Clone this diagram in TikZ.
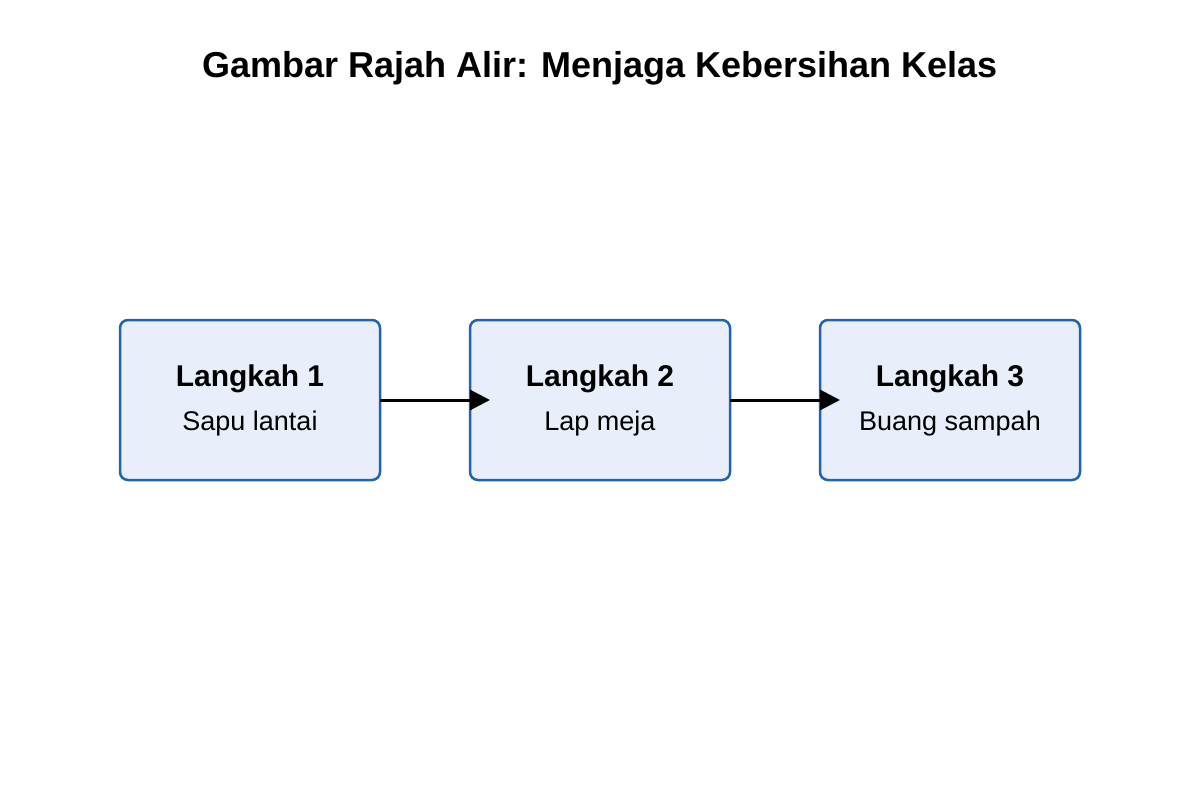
\documentclass[tikz,border=0pt]{standalone}
\usepackage{fontspec}
\setmainfont{Liberation Sans}
\usetikzlibrary{positioning}
\usetikzlibrary{arrows.meta}
\definecolor{boxline}{HTML}{1F62B4}
\definecolor{boxfill}{HTML}{E8EFFB}
\tikzset{
  stepbox/.style={draw=boxline, line width=2.5pt, rounded corners=8pt, fill=boxfill, outer sep=0pt,
    minimum width=260pt, minimum height=160pt, align=center, font=\fontsize{27}{44}\selectfont},
  link/.style={line width=3pt, -{Triangle[length=20pt,width=20pt]}, shorten >=-20pt}
}
\begin{document}
\begin{tikzpicture}[x=1pt, y=-1pt]
\useasboundingbox (0,0) rectangle (1200,800);
\node[font=\fontsize{36}{40}\selectfont\bfseries] (title) at (600,68) {Gambar Rajah Alir: Menjaga Kebersihan Kelas};

\node[stepbox] (s1) at (250,400) {{\fontsize{30}{44}\selectfont\bfseries Langkah 1}\\Sapu lantai};
\node[stepbox, right=90pt of s1] (s2) {{\fontsize{30}{44}\selectfont\bfseries Langkah 2}\\Lap meja};
\node[stepbox, right=90pt of s2] (s3) {{\fontsize{30}{44}\selectfont\bfseries Langkah 3}\\Buang sampah};

\draw[link] (s1.east) -- (s2.west);
\draw[link] (s2.east) -- (s3.west);
\end{tikzpicture}
\end{document}
